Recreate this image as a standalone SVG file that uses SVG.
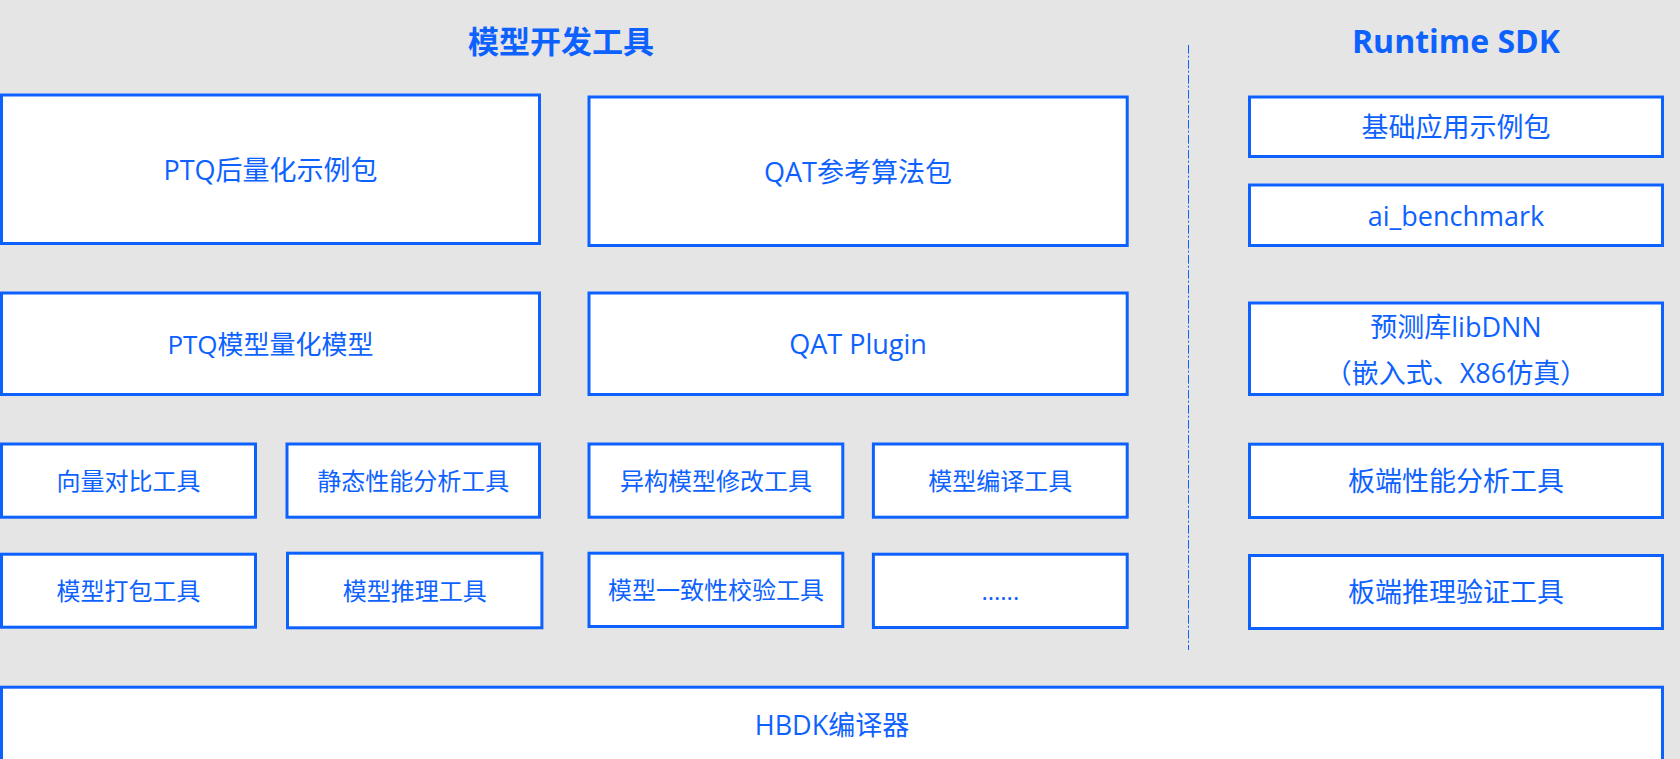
<svg xmlns="http://www.w3.org/2000/svg" width="1680" height="759" viewBox="0 0 1680 759">
  <style>
    .bg { fill: #E5E5E5; }
    .box { fill: #FFFFFF; stroke: #0D62FF; stroke-width: 3; }
    .t { font-family: "Open Sans", "Noto Sans CJK SC", sans-serif; fill: #0D62FF; text-anchor: middle; }
    .s24 { font-size: 24px; }
    .s26 { font-size: 26px; }
    .s27 { font-size: 27px; }
    .title { font-family: "Open Sans", "Noto Sans CJK SC", sans-serif; fill: #0D62FF; text-anchor: middle; font-weight: 700; }
    .divider { stroke: #0D62FF; stroke-width: 1; stroke-dasharray: 8.7 2 2 2.3; fill: none; }
  </style>
  <rect class="bg" x="0" y="0" width="1680" height="759"/>

  <g id="titles">
    <text class="title" x="561" y="53" font-size="31">模型开发工具</text>
    <text class="title" x="1456" y="52.5" font-size="32">Runtime SDK</text>
  </g>

  <g id="connectors">
    <line class="divider" x1="1188.5" y1="45" x2="1188.5" y2="650"/>
  </g>

  <g id="ptq-example">
    <rect class="box" x="1.5" y="95" width="538" height="148.5"/>
    <text class="t s27" x="270.5" y="180">PTQ后量化示例包</text>
  </g>
  <g id="qat-algo">
    <rect class="box" x="589" y="97" width="538.2" height="148.5"/>
    <text class="t s27" x="858" y="182">QAT参考算法包</text>
  </g>
  <g id="basic-example">
    <rect class="box" x="1249.5" y="97" width="413" height="59.5"/>
    <text class="t s27" x="1456" y="136.5">基础应用示例包</text>
  </g>
  <g id="ai-benchmark">
    <rect class="box" x="1249.5" y="185" width="413" height="60.5"/>
    <text class="t s27" x="1456" y="225.7">ai_benchmark</text>
  </g>
  <g id="libdnn">
    <rect class="box" x="1249.5" y="303" width="413" height="91.5"/>
    <text class="t s27" x="1456" y="337">预测库libDNN</text>
    <text class="t s27" x="1456" y="383">（嵌入式、X86仿真）</text>
  </g>

  <g id="ptq-model">
    <rect class="box" x="1.5" y="293" width="538" height="101.5"/>
    <text class="t s26" x="270.5" y="354">PTQ模型量化模型</text>
  </g>
  <g id="qat-plugin">
    <rect class="box" x="589" y="293" width="538.2" height="101.5"/>
    <text class="t s27" x="858" y="354">QAT Plugin</text>
  </g>

  <g id="vector-compare">
    <rect class="box" x="1.5" y="444" width="254" height="73.2"/>
    <text class="t s24" x="128.5" y="490">向量对比工具</text>
  </g>
  <g id="static-perf">
    <rect class="box" x="287" y="444" width="252.5" height="73.2"/>
    <text class="t s24" x="413.3" y="490">静态性能分析工具</text>
  </g>
  <g id="hetero-modify">
    <rect class="box" x="589" y="444" width="253.8" height="73.2"/>
    <text class="t s24" x="716" y="490">异构模型修改工具</text>
  </g>
  <g id="model-compile">
    <rect class="box" x="873.4" y="444" width="253.8" height="73.2"/>
    <text class="t s24" x="1000.3" y="490">模型编译工具</text>
  </g>
  <g id="board-perf">
    <rect class="box" x="1249.5" y="444.2" width="413" height="73.3"/>
    <text class="t s27" x="1456" y="491">板端性能分析工具</text>
  </g>

  <g id="model-pack">
    <rect class="box" x="1.5" y="554.2" width="254" height="73"/>
    <text class="t s24" x="128.5" y="600">模型打包工具</text>
  </g>
  <g id="model-infer">
    <rect class="box" x="287.5" y="553.2" width="254.4" height="74.6"/>
    <text class="t s24" x="414.7" y="600">模型推理工具</text>
  </g>
  <g id="consistency-check">
    <rect class="box" x="589" y="553.2" width="253.8" height="73.3"/>
    <text class="t s24" x="716" y="598.5">模型一致性校验工具</text>
  </g>
  <g id="more">
    <rect class="box" x="873.4" y="554.2" width="253.8" height="73.3"/>
    <text class="t s24" x="1000.3" y="600">......</text>
  </g>
  <g id="board-infer">
    <rect class="box" x="1249.5" y="555.5" width="413" height="73"/>
    <text class="t s27" x="1456" y="602.3">板端推理验证工具</text>
  </g>

  <g id="hbdk">
    <rect class="box" x="1.5" y="687.2" width="1661" height="120"/>
    <text class="t s27" x="832" y="735">HBDK编译器</text>
  </g>
</svg>
